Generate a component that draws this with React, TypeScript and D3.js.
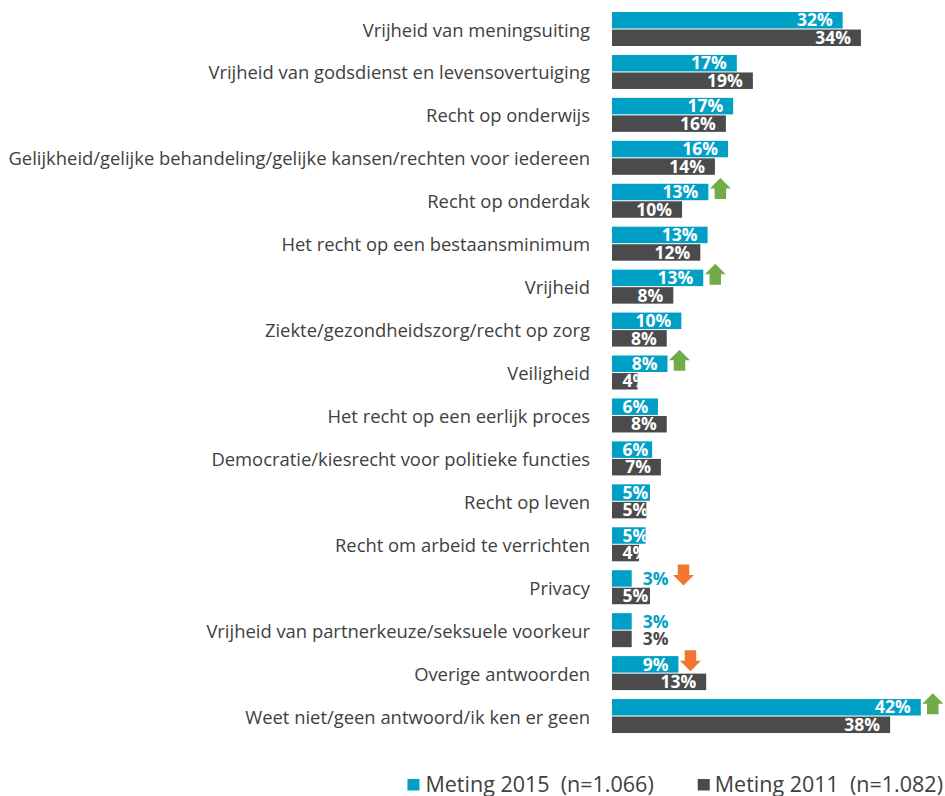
import React from "react";
import * as d3 from "d3";

const categories = [
  "Vrijheid van meningsuiting",
  "Vrijheid van godsdienst en levensovertuiging",
  "Recht op onderwijs",
  "Gelijkheid/gelijke behandeling/gelijke kansen/rechten voor iedereen",
  "Recht op onderdak",
  "Het recht op een bestaansminimum",
  "Vrijheid",
  "Ziekte/gezondheidszorg/recht op zorg",
  "Veiligheid",
  "Het recht op een eerlijk proces",
  "Democratie/kiesrecht voor politieke functies",
  "Recht op leven",
  "Recht om arbeid te verrichten",
  "Privacy",
  "Vrijheid van partnerkeuze/seksuele voorkeur",
  "Overige antwoorden",
  "Weet niet/geen antwoord/ik ken er geen",
];

const values2015 = [31.6, 17.1, 16.6, 15.9, 13.2, 13.1, 12.5, 9.5, 7.6, 6.3, 5.5, 5.2, 4.6, 2.7, 2.7, 9.1, 42.3];
const values2011 = [34.1, 19.3, 15.6, 14.1, 9.6, 12.1, 8.4, 7.5, 3.5, 7.5, 6.7, 4.7, 3.7, 5.2, 2.7, 12.9, 38.1];
const changes = ["", "", "", "", "up", "", "up", "", "up", "", "", "", "", "down", "", "down", "up"];
const seriesNames = ["Meting 2015\u00A0\u00A0(n=1.066)", "Meting 2011\u00A0\u00A0(n=1.082)"];
const seriesKeys = ["2015", "2011"];

const COLORS: Record<string, string> = { "2015": "#00A0C6", "2011": "#4B4B4B" };
const UP = "#72AC48";
const DOWN = "#F2762E";
const TEXT = "#404040";
const FONT = "'Open Sans', Lato, sans-serif";

let ctx: CanvasRenderingContext2D | null = null;
function measure(text: string, font: string): number {
  if (!ctx) ctx = document.createElement("canvas").getContext("2d");
  if (!ctx) return text.length * 8;
  ctx.font = font;
  return ctx.measureText(text).width;
}

const W = 945;
const H = 796;
const X0 = 612;
const LABEL_FS = 18.4;
const VAL_FS = 17.5;
const LEG_FS = 21.5;

export default function App() {
  const x = d3.scaleLinear().domain([0, 45]).range([X0, X0 + 45 * 7.3]);
  const y = d3
    .scaleBand<string>()
    .domain(categories)
    .range([7.53, 7.53 + 17 * 42.94])
    .paddingInner(0.208)
    .paddingOuter(0.104);
  const ys = d3.scaleBand<string>().domain(seriesKeys).range([0, y.bandwidth()]).paddingInner(0.06);

  const rows = categories.map((c, i) => ({ c, i, v: [values2015[i], values2011[i]] }));

  const arrowPath = (left: number, cy: number, dir: string) => {
    const w = 21, h = 21, stem = 11.5, head = 10.5;
    const cx = left + w / 2;
    const top = cy - h / 2, bot = cy + h / 2;
    if (dir === "up") {
      return `M${cx},${top}L${cx + w / 2},${top + head}L${cx + stem / 2},${top + head}L${cx + stem / 2},${bot}L${cx - stem / 2},${bot}L${cx - stem / 2},${top + head}L${cx - w / 2},${top + head}Z`;
    }
    return `M${cx},${bot}L${cx + w / 2},${bot - head}L${cx + stem / 2},${bot - head}L${cx + stem / 2},${top}L${cx - stem / 2},${top}L${cx - stem / 2},${bot - head}L${cx - w / 2},${bot - head}Z`;
  };

  const valFont = `bold ${VAL_FS}px ${FONT}`;
  const legFont = `${LEG_FS}px ${FONT}`;
  const lw = seriesNames.map((s) => measure(s, legFont));
  const legRight = 943;
  const leg2TextX = legRight - lw[1];
  const leg2SqX = leg2TextX - 17;
  const leg1TextX = leg2SqX - 44 - lw[0];
  const leg1SqX = leg1TextX - 18;

  return (
    <svg width={W} height={H} style={{ position: "absolute", left: 0, top: 0 }} fontFamily={FONT}>
      <rect width={W} height={H} fill="#fff" />
      <defs>
        {rows.map((r) =>
          seriesKeys.map((k, si) => (
            <clipPath id={`clip-${r.i}-${k}`} key={`${r.i}-${k}`}>
              <rect
                x={X0}
                y={(y(r.c) ?? 0) + (ys(k) ?? 0)}
                width={x(r.v[si]) - X0}
                height={ys.bandwidth()}
              />
            </clipPath>
          ))
        )}
      </defs>
      {rows.map((r) => {
        const gy = y(r.c) ?? 0;
        const cy = gy + y.bandwidth() / 2;
        let arrowAnchor = x(r.v[0]);
        return (
          <g key={r.c}>
            <text
              x={590}
              y={cy}
              textAnchor="end"
              dominantBaseline="central"
              fontSize={LABEL_FS}
              fill={TEXT}
            >
              {r.c}
            </text>
            {seriesKeys.map((k, si) => {
              const v = r.v[si];
              const by = gy + (ys(k) ?? 0);
              const bh = ys.bandwidth();
              const end = x(v);
              const label = `${Math.round(v)}%`;
              const tw = measure(label, valFont);
              const outside = v < 3;
              const baseY = by + bh / 2 + 6.2;
              let tx: number;
              if (outside) {
                tx = end + 11;
                if (si === 0) arrowAnchor = tx + tw + 3;
              } else {
                tx = Math.max(X0 + 10.5, end - 10 - tw);
              }
              return (
                <g key={k}>
                  <rect x={X0} y={by} width={end - X0} height={bh} fill={COLORS[k]} />
                  <text
                    x={tx}
                    y={baseY}
                    fontSize={VAL_FS}
                    fontWeight="bold"
                    fill={outside ? COLORS[k] : "#fff"}
                    clipPath={outside ? undefined : `url(#clip-${r.i}-${k})`}
                  >
                    {label}
                  </text>
                </g>
              );
            })}
            {changes[r.i] && (
              <path
                d={arrowPath(
                  arrowAnchor + 1.5,
                  gy + (ys("2015") ?? 0) + ys.bandwidth() / 2 - 3.5,
                  changes[r.i]
                )}
                fill={changes[r.i] === "up" ? UP : DOWN}
              />
            )}
          </g>
        );
      })}
      <g>
        <rect x={leg1SqX} y={779} width={12} height={11.5} fill={COLORS["2015"]} />
        <text x={leg1TextX} y={792} fontSize={LEG_FS} fill={TEXT}>
          {seriesNames[0]}
        </text>
        <rect x={leg2SqX} y={779} width={12} height={11.5} fill={COLORS["2011"]} />
        <text x={leg2TextX} y={792} fontSize={LEG_FS} fill={TEXT}>
          {seriesNames[1]}
        </text>
      </g>
    </svg>
  );
}
